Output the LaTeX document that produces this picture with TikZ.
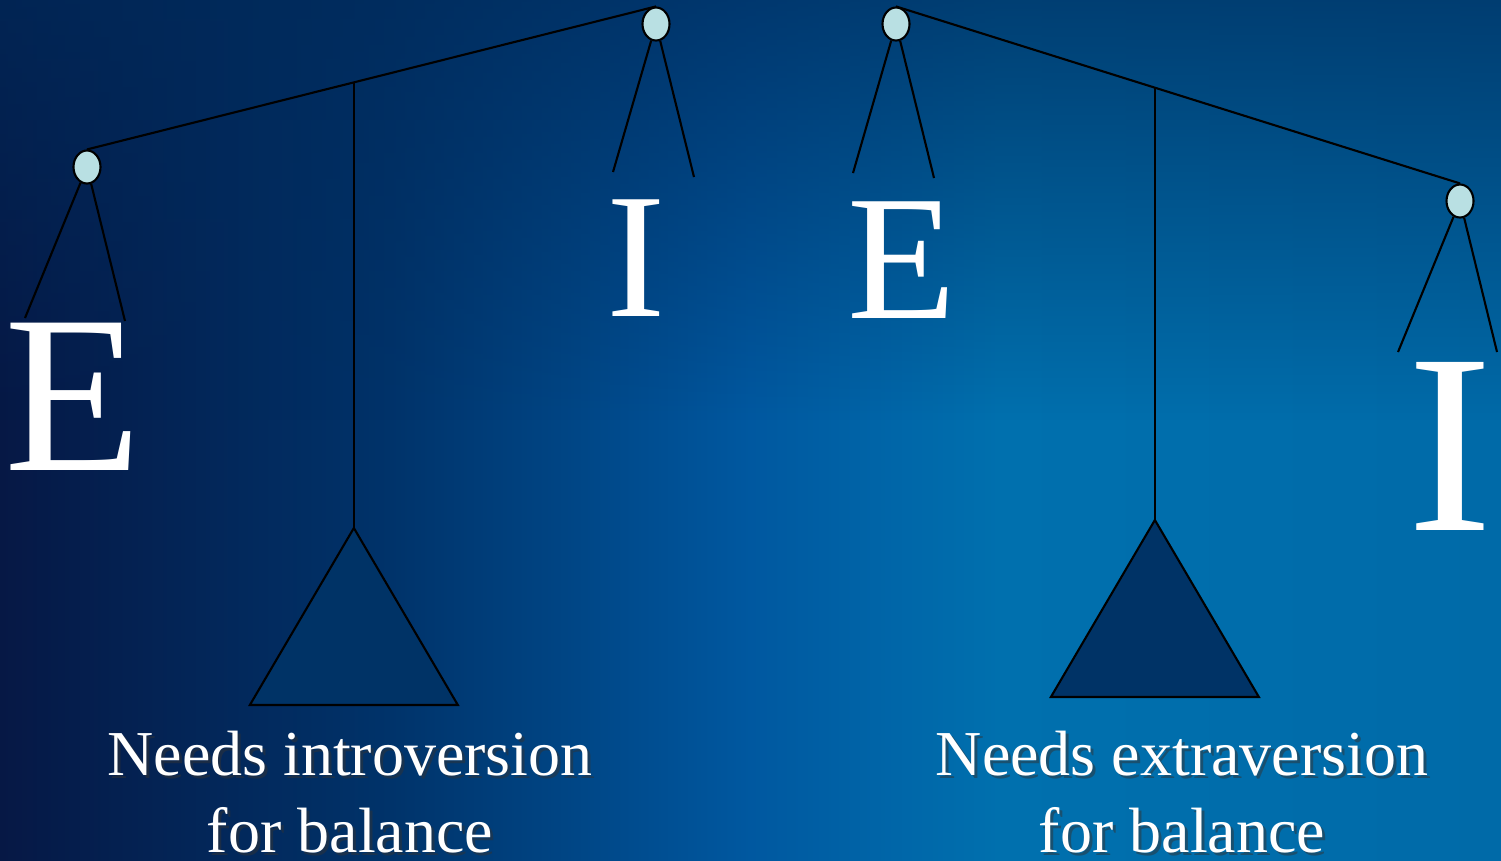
\documentclass[tikz,border=0pt]{standalone}
\usepackage{fontspec}
\setmainfont{Liberation Serif}
\usetikzlibrary{shapes.geometric,calc,fadings}
\definecolor{bnavy}{HTML}{061845}
\definecolor{bmid}{HTML}{00336A}
\definecolor{bsea}{HTML}{0058A0}
\definecolor{blight}{HTML}{0070AE}
\definecolor{bedge}{HTML}{006AA8}
\definecolor{btop}{HTML}{002A5A}
\definecolor{bfill}{HTML}{003366}
\definecolor{bpiv}{HTML}{B9E0E3}
\pgfdeclarehorizontalshading{bgsky}{100bp}{color(0bp)=(bnavy); color(25bp)=(bnavy);
  color(38bp)=(bmid); color(50bp)=(bsea); color(58.3bp)=(blight);
  color(75bp)=(bedge); color(100bp)=(bedge)}
\tikzfading[name=bdim, top color=transparent!30, bottom color=transparent!100]
\tikzset{
  bline/.style={black, line width=0.6pt},
  bpivot/.style={ellipse, draw=black, fill=bpiv, line width=0.6pt,
                 minimum width=0.27cm, minimum height=0.33cm, inner sep=0pt},
  bfulcrum/.style={bline, fill=bfill, line join=miter},
  bletter/.style={text=white, inner sep=0pt, anchor=base},
  bnote/.style={text=white, align=center, anchor=base, inner sep=0pt,
                font=\fontsize{18.2}{21.9}\selectfont},
  bshadow/.style={bnote, text=black!80, opacity=0.5},
}
\begin{document}
\begin{tikzpicture}[x=0.01cm,y=-0.01cm]

  % backdrop
  \shade[shading=bgsky] (0,0) rectangle (1501,860);
  \fill[btop, path fading=bdim] (0,0) rectangle (1501,420);
  \useasboundingbox (0,0) rectangle (1501,860);

  % left scale: E side down
  \node[bpivot] (lpivE) at (87,167) {};
  \node[bpivot] (lpivI) at (656,24) {};
  \draw[bline] (lpivE.north) -- coordinate[pos=0.469] (lpost) (lpivI.north);
  \coordinate (lapex) at (lpost |- 0,528);
  \draw[bline] (lpost) -- (lapex);
  \draw[bfulcrum] (lapex) -- ++(104,177) -- ++(-208,0) -- cycle;

  \coordinate (lsE1) at (25,318);
  \coordinate (lsE2) at (125,321);
  \coordinate (lsI1) at (613,172);
  \coordinate (lsI2) at (694,177);
  \draw[bline] (lpivE) -- (lsE1);
  \draw[bline] (lpivE) -- (lsE2);
  \draw[bline] (lpivI) -- (lsI1);
  \draw[bline] (lpivI) -- (lsI2);

  \node[bletter, font=\fontsize{64}{64}\selectfont] (lE) at (73,470) {E};
  \node[bletter, font=\fontsize{50.7}{50.7}\selectfont] (lI) at (636,316) {I};

  % right scale: I side down
  \node[bpivot] (rpivE) at (896,24) {};
  \node[bpivot] (rpivI) at (1460,201) {};
  \draw[bline] (rpivE.north) -- coordinate[pos=0.459] (rpost) (rpivI.north);
  \coordinate (rapex) at (rpost |- 0,520);
  \draw[bline] (rpost) -- (rapex);
  \draw[bfulcrum] (rapex) -- ++(104,177) -- ++(-208,0) -- cycle;

  \coordinate (rsE1) at (853,173);
  \coordinate (rsE2) at (934,178);
  \coordinate (rsI1) at (1398,352);
  \coordinate (rsI2) at (1497,352);
  \draw[bline] (rpivE) -- (rsE1);
  \draw[bline] (rpivE) -- (rsE2);
  \draw[bline] (rpivI) -- (rsI1);
  \draw[bline] (rpivI) -- (rsI2);

  \node[bletter, font=\fontsize{50.7}{50.7}\selectfont] (rE) at (902,318) {E};
  \node[bletter, font=\fontsize{73}{73}\selectfont] (rI) at (1450,530) {I};

  % captions (base = last line)
  \node[bshadow] (lnoteshd) at (353,855) {Needs introversion\\for balance};
  \node[bnote] (lnote) at (350,852) {Needs introversion\\for balance};
  \node[bshadow] (rnoteshd) at (1185,855) {Needs extraversion\\for balance};
  \node[bnote] (rnote) at (1182,852) {Needs extraversion\\for balance};

\end{tikzpicture}
\end{document}
